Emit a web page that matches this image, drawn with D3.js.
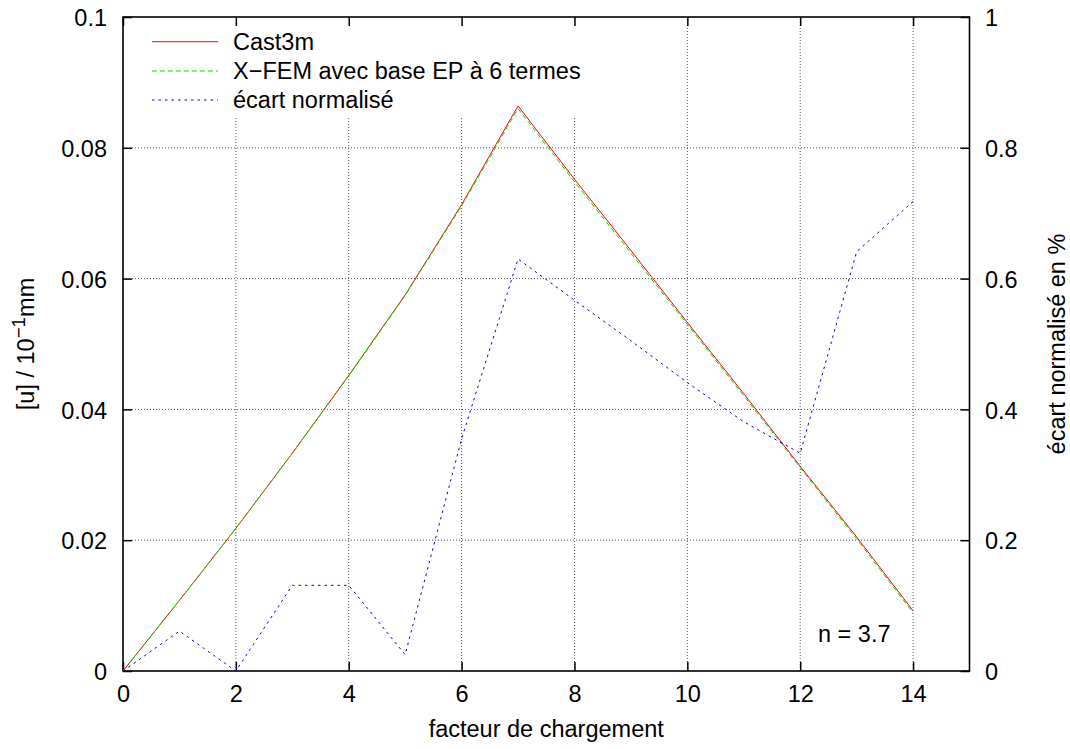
<!DOCTYPE html>
<html><head><meta charset="utf-8">
<script src="https://cdn.jsdelivr.net/npm/d3@7"></script>
<style>
body{margin:0;background:#fff;}
text{font-family:"Liberation Sans",Arial,Helvetica,sans-serif;fill:#000;}
</style></head>
<body><svg id="c" width="1070" height="749"></svg>
<script>
const loadFactor = [0,1,2,3,4,5,6,7,8,9,10,11,12,13,14];
const cast3m = [0,0.0108,0.0218,0.0333,0.0452,0.0575,0.0713,0.0864,0.0752,0.0643,0.0533,0.0424,0.0313,0.0205,0.0092];
const xfem   = [0,0.0108,0.0218,0.0333,0.0451,0.0574,0.0711,0.0860,0.0748,0.0639,0.0530,0.0421,0.0311,0.0202,0.0089];
const ecart  = [0,0.061,0,0.131,0.131,0.025,0.355,0.630,0.567,0.505,0.441,0.381,0.333,0.641,0.718];
const xTicks = [0,2,4,6,8,10,12,14];
const yTicks = [0,0.02,0.04,0.06,0.08,0.1];
const y2Ticks = [0,0.2,0.4,0.6,0.8,1];
const seriesNames = ["Cast3m","X\u2212FEM avec base EP à 6 termes","écart normalisé"];
const nLabel = "n = 3.7";

const FS = 23.5;
const L=123, R=969.5, T=17, B=671;
const svg = d3.select("#c");
const x = d3.scaleLinear().domain([0,15]).range([L,R]);
const y = d3.scaleLinear().domain([0,0.1]).range([B,T]);
const y2 = d3.scaleLinear().domain([0,1]).range([B,T]);

// grid
const g = svg.append("g");
xTicks.filter(t=>t>0).forEach(t=>{
  g.append("line").attr("x1",x(t)).attr("x2",x(t))
   .attr("y1",B).attr("y2", t<=8 ? 117 : T)
   .attr("stroke","#555").attr("stroke-width",1).attr("stroke-dasharray","1,2");
});
yTicks.filter(t=>t>0 && t<0.1).forEach(t=>{
  g.append("line").attr("x1",L).attr("x2",R).attr("y1",y(t)).attr("y2",y(t))
   .attr("stroke","#555").attr("stroke-width",1).attr("stroke-dasharray","1,2");
});

function styleAxis(sel){
  sel.select(".domain").remove();
  sel.selectAll(".tick line").attr("stroke","#000").attr("stroke-width",1.5);
  sel.selectAll("text").attr("font-size",FS).attr("font-family","Liberation Sans, Arial, sans-serif").attr("fill","#000");
}
const fmt = d=>d3.format("~g")(d);
const ax = svg.append("g").attr("transform",`translate(0,${B})`)
  .call(d3.axisBottom(x).tickValues(xTicks).tickFormat(fmt).tickSize(-9).tickPadding(23.3));
styleAxis(ax);
ax.selectAll("text").attr("dy","0.71em").attr("y",14.3);
const axTop = svg.append("g").attr("transform",`translate(0,${T})`)
  .call(d3.axisTop(x).tickValues(xTicks).tickFormat("").tickSize(-9));
styleAxis(axTop);
const ay = svg.append("g").attr("transform",`translate(${L},0)`)
  .call(d3.axisLeft(y).tickValues(yTicks).tickFormat(fmt).tickSize(-9).tickPadding(16));
styleAxis(ay);
ay.selectAll("text").attr("dy","0.37em").attr("x",-16);
const ay2 = svg.append("g").attr("transform",`translate(${R},0)`)
  .call(d3.axisRight(y2).tickValues(y2Ticks).tickFormat(fmt).tickSize(-9).tickPadding(15.5));
styleAxis(ay2);
ay2.selectAll("text").attr("dy","0.37em").attr("x",15.5);

// frame
svg.append("rect").attr("x",L).attr("y",T).attr("width",R-L).attr("height",B-T)
  .attr("fill","none").attr("stroke","#000").attr("stroke-width",1.6);

// lines
const styles = [
  {data:cast3m, sc:y, color:"#ff0000", dash:null},
  {data:xfem, sc:y, color:"#00e000", dash:"5,3"},
  {data:ecart, sc:y2, color:"#0000ff", dash:"2.5,4"}
];
styles.forEach(s=>{
  const line = d3.line().x((d,i)=>x(loadFactor[i])).y(d=>s.sc(d));
  svg.append("path").datum(s.data).attr("d",line).attr("fill","none")
    .attr("stroke",s.color).attr("stroke-width",1)
    .attr("stroke-dasharray",s.dash);
});

// legend
const legY = [41.7,71,100];
seriesNames.forEach((n,i)=>{
  svg.append("line").attr("x1",152).attr("x2",218).attr("y1",legY[i]).attr("y2",legY[i])
    .attr("stroke",styles[i].color).attr("stroke-width",1).attr("stroke-dasharray",styles[i].dash);
  svg.append("text").attr("x",233).attr("y",legY[i]+8.4).attr("font-size",FS).text(n);
});

// label
svg.append("text").attr("x",818).attr("y",642).attr("font-size",FS).text(nLabel);

// axis titles
svg.append("text").attr("x",(L+R)/2).attr("y",737).attr("text-anchor","middle").attr("font-size",FS)
  .text("facteur de chargement");
const lt = svg.append("text").attr("transform",`translate(33.5,${(T+B)/2}) rotate(-90)`)
  .attr("text-anchor","middle").attr("font-size",FS);
lt.append("tspan").text("[u] / 10");
lt.append("tspan").attr("font-size",FS*0.8).attr("dy",-9).text("\u22121");
lt.append("tspan").attr("dy",9).text("mm");
svg.append("text").attr("transform",`translate(1065,${(T+B)/2}) rotate(-90)`)
  .attr("text-anchor","middle").attr("font-size",FS).text("écart normalisé en %");
</script></body></html>
